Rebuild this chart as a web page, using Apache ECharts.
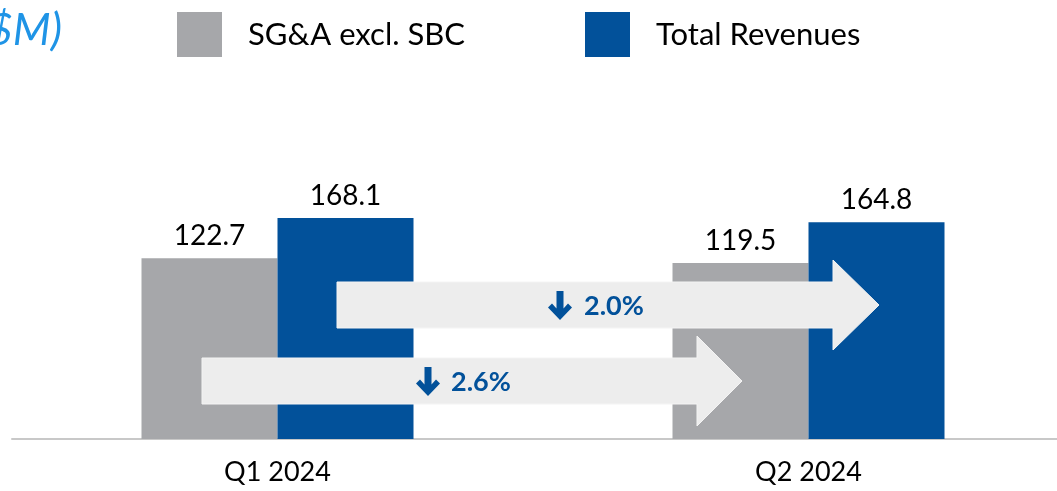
<!DOCTYPE html>
<html>
<head>
<meta charset="utf-8">
<script src="https://cdn.jsdelivr.net/npm/echarts@6/dist/echarts.min.js"></script>
<style>
html, body { margin: 0; padding: 0; background: #fff; }
#main { width: 1057px; height: 491px; }
</style>
</head>
<body>
<div id="main"></div>
<script>
var categories = ['Q1 2024', 'Q2 2024'];
var sgaValues = [122.7, 119.5];
var revenueValues = [168.1, 164.8];
var seriesNames = ['SG&A excl. SBC', 'Total Revenues'];

var font = 'Lato, "Liberation Sans", sans-serif';
var grayColor = '#a6a7aa';
var blueColor = '#02519a';

// 变化百分比
function pctDown(arr) {
    return (Math.abs((arr[1] - arr[0]) / arr[0]) * 100).toFixed(1) + '%';
}

// 大箭头 (body from x1 to x2, head to x3)
function bigArrow(x1, x2, x3, yc, bodyHalf, headHalf) {
    return {
        type: 'polygon',
        z: 100,
        shape: {
            points: [
                [x1, yc - bodyHalf], [x2, yc - bodyHalf], [x2, yc - headHalf],
                [x3, yc], [x2, yc + headHalf], [x2, yc + bodyHalf], [x1, yc + bodyHalf]
            ]
        },
        style: { fill: '#ededed', stroke: '#f4f4f4', lineWidth: 1 }
    };
}

// 向下小箭头
function downGlyph(x, y) {
    var pts = [[8.5, 0], [15.5, 0], [15.5, 17.5], [20, 12.5], [24, 16.5], [12, 29],
        [0, 16.5], [4, 12.5], [8.5, 17.5]];
    return {
        type: 'polygon',
        z: 101,
        shape: { points: pts.map(function (p) { return [p[0] + x, p[1] + y]; }) },
        style: { fill: blueColor }
    };
}

function pctText(x, y, txt) {
    return {
        type: 'text',
        z: 101,
        x: x,
        y: y,
        style: {
            text: txt,
            font: 'bold 27px ' + font,
            fill: blueColor,
            textAlign: 'left',
            textVerticalAlign: 'middle'
        }
    };
}

var myChart = echarts.init(document.getElementById('main'));

var option = {
    animation: false,
    backgroundColor: '#fff',
    grid: { left: 12, width: 1062, top: 218, bottom: 52, outerBoundsMode: 'none' },
    legend: [{
        data: [seriesNames[0]],
        left: 177, top: 12, padding: 0,
        icon: 'rect', itemWidth: 45, itemHeight: 45,
        textStyle: { fontSize: 31, fontFamily: font, color: '#000', padding: [0, 0, 0, 21] }
    }, {
        data: [seriesNames[1]],
        left: 585, top: 12, padding: 0,
        icon: 'rect', itemWidth: 45, itemHeight: 45,
        textStyle: { fontSize: 31, fontFamily: font, color: '#000', padding: [0, 0, 0, 21] }
    }],
    xAxis: {
        type: 'category',
        data: categories,
        axisLine: { lineStyle: { color: '#c8c8c8', width: 2 } },
        axisTick: { show: false },
        axisLabel: { fontSize: 27, fontFamily: font, color: '#000', margin: 20 }
    },
    yAxis: [
        { type: 'value', min: 0, max: 150, show: false },
        { type: 'value', min: 0, max: function (v) { return v.max; }, show: false }
    ],
    series: [{
        name: seriesNames[0],
        type: 'bar',
        yAxisIndex: 0,
        data: sgaValues,
        barWidth: 136,
        barGap: '0%',
        itemStyle: { color: grayColor },
        label: { show: true, position: 'top', distance: 8, fontSize: 28, fontFamily: font, color: '#000' }
    }, {
        name: seriesNames[1],
        type: 'bar',
        yAxisIndex: 1,
        data: revenueValues,
        barWidth: 136,
        barGap: '0%',
        itemStyle: { color: blueColor },
        label: { show: true, position: 'top', distance: 8, fontSize: 28, fontFamily: font, color: '#000' }
    }],
    graphic: [
        {
            type: 'text', z: 100, x: 62, y: 31,
            style: {
                text: '($M)', font: 'italic 44px ' + font, fill: '#1f94e6',
                textAlign: 'right', textVerticalAlign: 'middle'
            }
        },
        bigArrow(337, 833, 879, 305, 23, 45),
        downGlyph(548, 291),
        pctText(584, 306, pctDown(revenueValues)),
        bigArrow(202, 697, 742, 381, 23, 45),
        downGlyph(416, 367),
        pctText(451, 382, pctDown(sgaValues))
    ]
};

myChart.setOption(option);
</script>
</body>
</html>
